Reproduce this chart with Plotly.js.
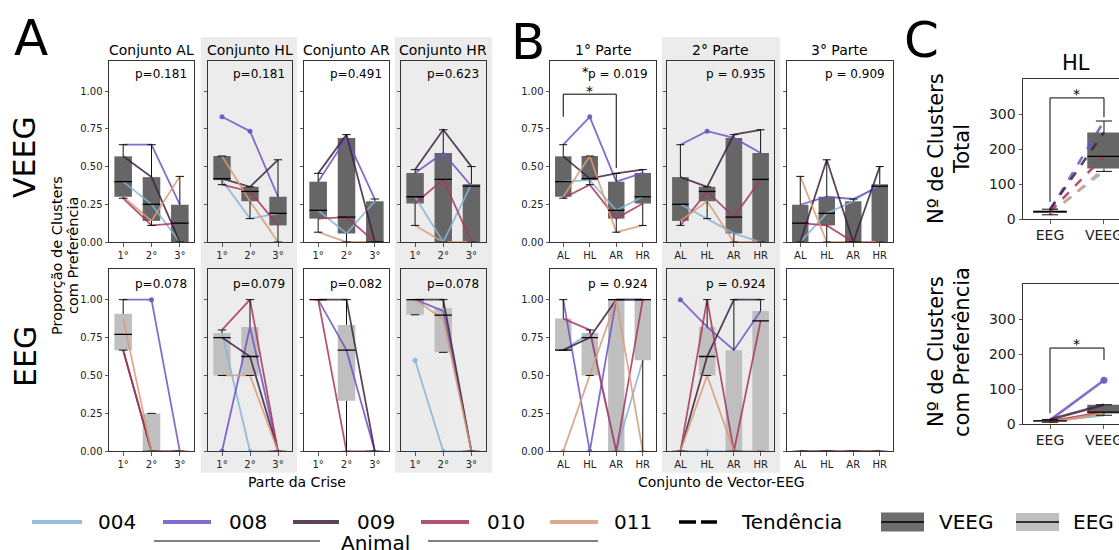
<!DOCTYPE html>
<html><head><meta charset="utf-8">
<script src="https://cdn.plot.ly/plotly-3.0.1.min.js"></script>
<style>html,body{margin:0;padding:0;background:#fff;} #chart{width:1119px;height:550px;}</style>
</head><body><div id="chart"></div>
<script>
const W = 1119, H = 550;
const FONT = 'DejaVu Sans, Liberation Sans, sans-serif';

// ---------------- data ----------------
const animals = ['004', '008', '009', '010', '011'];
const animalColors = ['#86b3d8', '#6f52c4', '#40223f', '#a8355f', '#d99b76'];
const conjuntos = ['AL', 'HL', 'AR', 'HR'];
const partes = ['1°', '2°', '3°'];
const condNames = ['EEG', 'VEEG'];
const yTicks = [0, 0.25, 0.5, 0.75, 1.0];
const yTickText = ['0.00', '0.25', '0.50', '0.75', '1.00'];
const cTicks = [0, 100, 200, 300];

// VEEG proportions: rows = conjunto (AL,HL,AR,HR), cols = parte (1°,2°,3°)
const veeg004 = [[0.40, 0.25, 0.00], [0.41, 0.155, 0.19], [0.21, 0.057, 0.27], [0.30, 0.00, 0.383]];
const veeg008 = [[0.645, 0.645, 0.247], [0.83, 0.735, 0.30], [0.40, 0.69, 0.285], [0.458, 0.59, 0.37]];
const veeg009 = [[0.568, 0.43, 0.00], [0.42, 0.366, 0.545], [0.455, 0.712, 0.00], [0.48, 0.744, 0.50]];
const veeg010 = [[0.29, 0.11, 0.125], [0.38, 0.335, 0.11], [0.155, 0.165, 0.00], [0.255, 0.415, 0.00]];
const veeg011 = [[0.30, 0.14, 0.435], [0.57, 0.27, 0.00], [0.065, 0.00, 0.00], [0.11, 0.00, 0.00]];

// EEG proportions, panel A: rows = conjunto, cols = parte
const eegA004 = [[null, null, null], [0.78, 0, 0], [null, null, null], [0.60, 0, 0]];
const eegA008 = [[1, 1, 0], [0, 0.82, 0], [1, 0.667, 0], [1, 0.925, 0]];
const eegA009 = [[0.667, 0, 0], [0.75, 0.625, 0], [1, 1, 0], [1, 1, 0]];
const eegA010 = [[0.667, 0, 0], [0.80, 1, 0], [1, 0, 0], [null, null, null]];
const eegA011 = [[0.875, 0, 0], [0.5, 0.5, 0], [null, null, null], [1, 0.87, 0]];

// EEG proportions, panel B: rows = parte, cols = conjunto (AL,HL,AR,HR)
const eegB004 = [[0.667, 0.78, 0, 0.60], [0, 0, 0, 0], [0, 0, 0, 0]];
const eegB008 = [[1, 0, 1, 1], [1, 0.82, 0.667, 0.925], [0, 0, 0, 0]];
const eegB009 = [[0.667, 0.75, 1, 1], [0, 0.625, 1, 1], [0, 0, 0, 0]];
const eegB010 = [[0.875, 0.80, 0, 1], [0, 1, 0, 0.86], [0, 0, 0, 0]];
const eegB011 = [[0, 0.5, 1, 0], [0, 0.5, 0, 0], [0, 0, 0, 0]];

// Panel C (HL): number of clusters per animal
const cTotalEEG = [17, 24, 28, 21, 12];
const cTotalVEEG = [136, 280, 247, 179, 144];
const cPrefEEG = [9, 11, 13, 7, 5];
const cPrefVEEG = [25, 125, 55, 34, 30];

// p-values
const pA_veeg = ['p=0.181', 'p=0.181', 'p=0.491', 'p=0.623'];
const pA_eeg = ['p=0.078', 'p=0.079', 'p=0.082', 'p=0.078'];
const pB_veeg = ['p = 0.019', 'p = 0.935', 'p = 0.909'];
const pB_eeg = ['p = 0.924', 'p = 0.924', ''];

const veegAll = [veeg004, veeg008, veeg009, veeg010, veeg011];
const eegAAll = [eegA004, eegA008, eegA009, eegA010, eegA011];
const eegBAll = [eegB004, eegB008, eegB009, eegB010, eegB011];

// ---------------- helpers ----------------
const traces = [];
const annotations = [];
const shapes = [];
const layout = {
  width: W, height: H, margin: {l: 0, r: 0, t: 0, b: 0},
  paper_bgcolor: '#ffffff', plot_bgcolor: '#ffffff',
  showlegend: false, font: {family: FONT, color: '#000'},
  barmode: 'overlay'
};
const VEEG_BOX = '#666666', EEG_BOX = '#bfbfbf';

function ann(text, xpx, ypx, size, o) {
  o = o || {};
  annotations.push(Object.assign({
    text: text, xref: 'paper', yref: 'paper', x: xpx / W, y: 1 - ypx / H,
    showarrow: false, xanchor: 'center', yanchor: 'middle',
    font: {family: FONT, size: size, color: '#000'}
  }, o));
}
function rectPx(x0, y0, x1, y1, fill) {
  shapes.push({type: 'rect', xref: 'paper', yref: 'paper', layer: 'below',
    x0: x0 / W, x1: x1 / W, y0: 1 - y1 / H, y1: 1 - y0 / H,
    fillcolor: fill, line: {width: 0}});
}

let axN = 0;
function addAxes(xpx, ypx, o) {
  axN++;
  const s = axN === 1 ? '' : String(axN);
  const xr = 'x' + s, yr = 'y' + s;
  layout['xaxis' + s] = {
    domain: [xpx[0] / W, Math.min(1, xpx[1] / W)], anchor: yr, range: o.xrange,
    tickvals: o.xtickvals, ticktext: o.xticktext, showline: true, mirror: o.xmirror === undefined ? true : o.xmirror,
    linecolor: '#333', linewidth: 1, ticks: 'outside', ticklen: 3.5, tickwidth: 0.8, tickcolor: '#333',
    showgrid: false, zeroline: false, fixedrange: true, ticklabeloverflow: 'allow',
    tickfont: {family: FONT, size: o.tfs || 10, color: '#222'}
  };
  layout['yaxis' + s] = {
    domain: [1 - ypx[1] / H, 1 - ypx[0] / H], anchor: xr, range: o.yrange,
    tickvals: o.ytickvals, ticktext: o.showY ? o.yticktext : o.ytickvals.map(() => ''),
    showline: true, mirror: o.ymirror === undefined ? true : o.ymirror,
    linecolor: '#333', linewidth: 1, ticks: 'outside', ticklen: 3.5, tickwidth: 0.8, tickcolor: '#333',
    showgrid: false, zeroline: false, fixedrange: true, ticklabeloverflow: 'allow',
    tickfont: {family: FONT, size: o.tfs || 10, color: '#222'}
  };
  return {xr: xr, yr: yr, xpx: xpx, ypx: ypx};
}

function quantile(s, p) {
  const pos = (s.length - 1) * p, lo = Math.floor(pos), hi = Math.ceil(pos);
  return s[lo] + (s[hi] - s[lo]) * (pos - lo);
}
function boxStats(vals) {
  const s = vals.filter(v => v !== null && v !== undefined).sort((a, b) => a - b);
  if (!s.length) return null;
  const q1 = quantile(s, 0.25), med = quantile(s, 0.5), q3 = quantile(s, 0.75), iqr = q3 - q1;
  const eps = 1e-9;
  const hiLim = q3 + 1.5 * iqr, loLim = q1 - 1.5 * iqr;
  const wh = s.filter(v => v <= hiLim + eps);
  let whishi = wh.length ? Math.max.apply(null, wh) : q3; if (whishi < q3) whishi = q3;
  const wl = s.filter(v => v >= loLim - eps);
  let whislo = wl.length ? Math.min.apply(null, wl) : q1; if (whislo > q1) whislo = q1;
  return {q1, med, q3, whislo, whishi, hiLim: hiLim + eps, loLim: loLim - eps};
}

// series: array over animals, each an array over categories
function addGroup(ax, nCat, series, boxColor, o) {
  o = o || {};
  const bw = 0.62, cw = 0.3;
  const idx = Array.from({length: nCat}, (_, j) => j);
  const stats = idx.map(j => boxStats(series.map(s => s[j])));
  traces.push({type: 'bar', x: idx, base: stats.map(st => st ? st.q1 : 0),
    y: stats.map(st => st ? st.q3 - st.q1 : 0), width: bw,
    marker: {color: boxColor, line: {width: 0}}, xaxis: ax.xr, yaxis: ax.yr, hoverinfo: 'skip'});
  series.forEach((s, i) => {
    traces.push({type: 'scatter', mode: 'lines', x: idx, y: s, connectgaps: false,
      line: {color: animalColors[i], width: o.lw || 1.8, dash: o.dash || 'solid'},
      opacity: 0.85, xaxis: ax.xr, yaxis: ax.yr, hoverinfo: 'skip'});
  });
  // outliers drawn as dots in the animal colour
  const ox = [], oy = [], oc = [];
  series.forEach((s, i) => s.forEach((v, j) => {
    const st = stats[j];
    if (v !== null && st && (v > st.hiLim || v < st.loLim)) { ox.push(j); oy.push(v); oc.push(animalColors[i]); }
  }));
  if (ox.length) traces.push({type: 'scatter', mode: 'markers', x: ox, y: oy,
    marker: {color: oc, size: o.ms || 5}, opacity: 0.9, xaxis: ax.xr, yaxis: ax.yr, hoverinfo: 'skip'});
  // whiskers + caps
  const wx = [], wy = [], mx = [], my = [];
  stats.forEach((st, j) => {
    if (!st) return;
    wx.push(j, j, null, j, j, null, j - cw / 2, j + cw / 2, null, j - cw / 2, j + cw / 2, null);
    wy.push(st.whislo, st.q1, null, st.q3, st.whishi, null, st.whislo, st.whislo, null, st.whishi, st.whishi, null);
    mx.push(j - bw / 2, j + bw / 2, null);
    my.push(st.med, st.med, null);
  });
  traces.push({type: 'scatter', mode: 'lines', x: wx, y: wy, line: {color: '#111', width: 1},
    xaxis: ax.xr, yaxis: ax.yr, hoverinfo: 'skip', connectgaps: false});
  traces.push({type: 'scatter', mode: 'lines', x: mx, y: my, line: {color: '#000', width: 1.3},
    xaxis: ax.xr, yaxis: ax.yr, hoverinfo: 'skip', connectgaps: false});
}

// ---------------- shaded columns ----------------
rectPx(200.7, 37, 297, 472.7, '#ececec');
rectPx(395, 37, 492, 472.7, '#ececec');
rectPx(662, 37, 780, 472.7, '#ececec');

// ---------------- panel A ----------------
const Ax = [[109, 194], [208, 292], [304, 389], [401, 485.5]];
const rowTop = [61, 242], rowBot = [269.3, 451.3];
const yr12 = [0, 1.2];
conjuntos.forEach((cj, c) => {
  const axT = addAxes(Ax[c], rowTop, {xrange: [-0.5, 2.5], xtickvals: [0, 1, 2], xticktext: partes,
    yrange: yr12, ytickvals: yTicks, yticktext: yTickText, showY: c === 0});
  addGroup(axT, 3, veegAll.map(a => a[c]), VEEG_BOX);
  const axB = addAxes(Ax[c], rowBot, {xrange: [-0.5, 2.5], xtickvals: [0, 1, 2], xticktext: partes,
    yrange: yr12, ytickvals: yTicks, yticktext: yTickText, showY: c === 0});
  addGroup(axB, 3, eegAAll.map(a => a[c]), EEG_BOX);
  const cx = (Ax[c][0] + Ax[c][1]) / 2;
  ann('Conjunto ' + cj, cx, 50, 14);
  ann(pA_veeg[c], Ax[c][1] - 5, 74, 12, {xanchor: 'right'});
  ann(pA_eeg[c], Ax[c][1] - 5, 284, 12, {xanchor: 'right'});
});

// ---------------- panel B ----------------
const Bx = [[550, 656], [667, 774], [787, 893]];
let bFirst = null;
partes.forEach((pt, p) => {
  const axT = addAxes(Bx[p], rowTop, {xrange: [-0.5, 3.5], xtickvals: [0, 1, 2, 3], xticktext: conjuntos,
    yrange: yr12, ytickvals: yTicks, yticktext: yTickText, showY: p === 0});
  if (p === 0) bFirst = axT;
  addGroup(axT, 4, veegAll.map(a => a.map(row => row[p])), VEEG_BOX);
  const axB = addAxes(Bx[p], rowBot, {xrange: [-0.5, 3.5], xtickvals: [0, 1, 2, 3], xticktext: conjuntos,
    yrange: yr12, ytickvals: yTicks, yticktext: yTickText, showY: p === 0});
  addGroup(axB, 4, eegBAll.map(a => a[p]), EEG_BOX);
  const cx = (Bx[p][0] + Bx[p][1]) / 2;
  ann(pt + ' Parte', cx, 50, 14);
  if (pB_veeg[p]) ann(pB_veeg[p], Bx[p][1] - 6, 74, 12, {xanchor: 'right'});
  if (pB_eeg[p]) ann(pB_eeg[p], Bx[p][1] - 6, 284, 12, {xanchor: 'right'});
});
// significance bracket AL vs AR (1° Parte)
traces.push({type: 'scatter', mode: 'lines', x: [0, 0, 2, 2], y: [0.83, 0.98, 0.98, 0.49],
  line: {color: '#000', width: 1}, xaxis: bFirst.xr, yaxis: bFirst.yr, hoverinfo: 'skip'});
ann('*', 589.5, 91, 14);
ann('*', 585, 71, 13);

// ---------------- panel C ----------------
const Cx = [1023, 1131];
const cTop = [79, 219], cBot = [284, 424];
const axC1 = addAxes(Cx, cTop, {xrange: [-0.5, 1.278], xtickvals: [0, 1], xticktext: condNames,
  yrange: [0, 400], ytickvals: cTicks, yticktext: cTicks.map(String), showY: true, tfs: 14, ymirror: false});
addGroup(axC1, 2, animals.map((a, i) => [cTotalEEG[i], cTotalVEEG[i]]), VEEG_BOX, {lw: 2.6, dash: 'dash', ms: 7});
const axC2 = addAxes(Cx, cBot, {xrange: [-0.5, 1.278], xtickvals: [0, 1], xticktext: condNames,
  yrange: [0, 400], ytickvals: cTicks, yticktext: cTicks.map(String), showY: true, tfs: 14, ymirror: false});
addGroup(axC2, 2, animals.map((a, i) => [cPrefEEG[i], cPrefVEEG[i]]), VEEG_BOX, {lw: 2.6, ms: 7});
traces.push({type: 'scatter', mode: 'lines', x: [0, 0, 1, 1], y: [49, 346, 346, 291],
  line: {color: '#000', width: 1}, xaxis: axC1.xr, yaxis: axC1.yr, hoverinfo: 'skip'});
traces.push({type: 'scatter', mode: 'lines', x: [0, 0, 1, 1], y: [31, 217, 217, 183],
  line: {color: '#000', width: 1}, xaxis: axC2.xr, yaxis: axC2.yr, hoverinfo: 'skip'});
ann('*', 1076, 94, 14);
ann('*', 1076, 344, 14);
ann('HL', 1076, 63, 21);
ann('Nº de Clusters', 936, 149, 21, {textangle: -90});
ann('Total', 962, 149, 21, {textangle: -90});
ann('Nº de Clusters', 936, 352, 21, {textangle: -90});
ann('com Preferência', 962, 352, 21, {textangle: -90});

// ---------------- labels ----------------
ann('A', 31, 38, 50);
ann('B', 528, 42, 50);
ann('C', 921, 40, 50);
ann('VEEG', 25, 157, 30, {textangle: -90});
ann('EEG', 25, 357, 30, {textangle: -90});
ann('Proporção de Clusters', 57, 256, 14.5, {textangle: -90});
ann('com Preferência', 73, 256, 14.5, {textangle: -90});
ann('Parte da Crise', 297, 482, 14);
ann('Conjunto de Vector-EEG', 721.5, 482, 14);

// ---------------- legend ----------------
const legY = 522;
const legLineX = [[32, 82], [163, 211], [293, 339], [421, 469], [550, 598]];
const legTextX = [96, 227, 355, 485, 612];
animals.forEach((a, i) => {
  shapes.push({type: 'line', xref: 'paper', yref: 'paper', x0: legLineX[i][0] / W, x1: legLineX[i][1] / W,
    y0: 1 - legY / H, y1: 1 - legY / H, line: {color: animalColors[i], width: 4}, opacity: 0.85});
  ann(a, legTextX[i], legY, 20, {xanchor: 'left'});
});
shapes.push({type: 'line', xref: 'paper', yref: 'paper', x0: 679 / W, x1: 717 / W, y0: 1 - legY / H, y1: 1 - legY / H,
  line: {color: '#000', width: 3.5, dash: '17px,5px'}});
ann('Tendência', 739, legY, 20, {xanchor: 'left'});
rectPx(881, 512.5, 924, 531.5, '#6e6e6e');
shapes.push({type: 'line', xref: 'paper', yref: 'paper', x0: 881 / W, x1: 924 / W, y0: 1 - legY / H, y1: 1 - legY / H,
  line: {color: '#000', width: 1.5}});
ann('VEEG', 937, legY, 20, {xanchor: 'left'});
rectPx(1016, 513, 1059, 531, '#bfbfbf');
shapes.push({type: 'line', xref: 'paper', yref: 'paper', x0: 1016 / W, x1: 1059 / W, y0: 1 - legY / H, y1: 1 - legY / H,
  line: {color: '#000', width: 1.5}});
ann('EEG', 1071, legY, 20, {xanchor: 'left'});
// "Animal" group label
ann('Animal', 375, 543, 20);
shapes.push({type: 'line', xref: 'paper', yref: 'paper', x0: 154 / W, x1: 320 / W, y0: 1 - 541 / H, y1: 1 - 541 / H,
  line: {color: '#000', width: 1}});
shapes.push({type: 'line', xref: 'paper', yref: 'paper', x0: 428 / W, x1: 598 / W, y0: 1 - 541 / H, y1: 1 - 541 / H,
  line: {color: '#000', width: 1}});

layout.annotations = annotations;
layout.shapes = shapes;
Plotly.newPlot('chart', traces, layout, {staticPlot: true, displayModeBar: false});
</script>
</body></html>
